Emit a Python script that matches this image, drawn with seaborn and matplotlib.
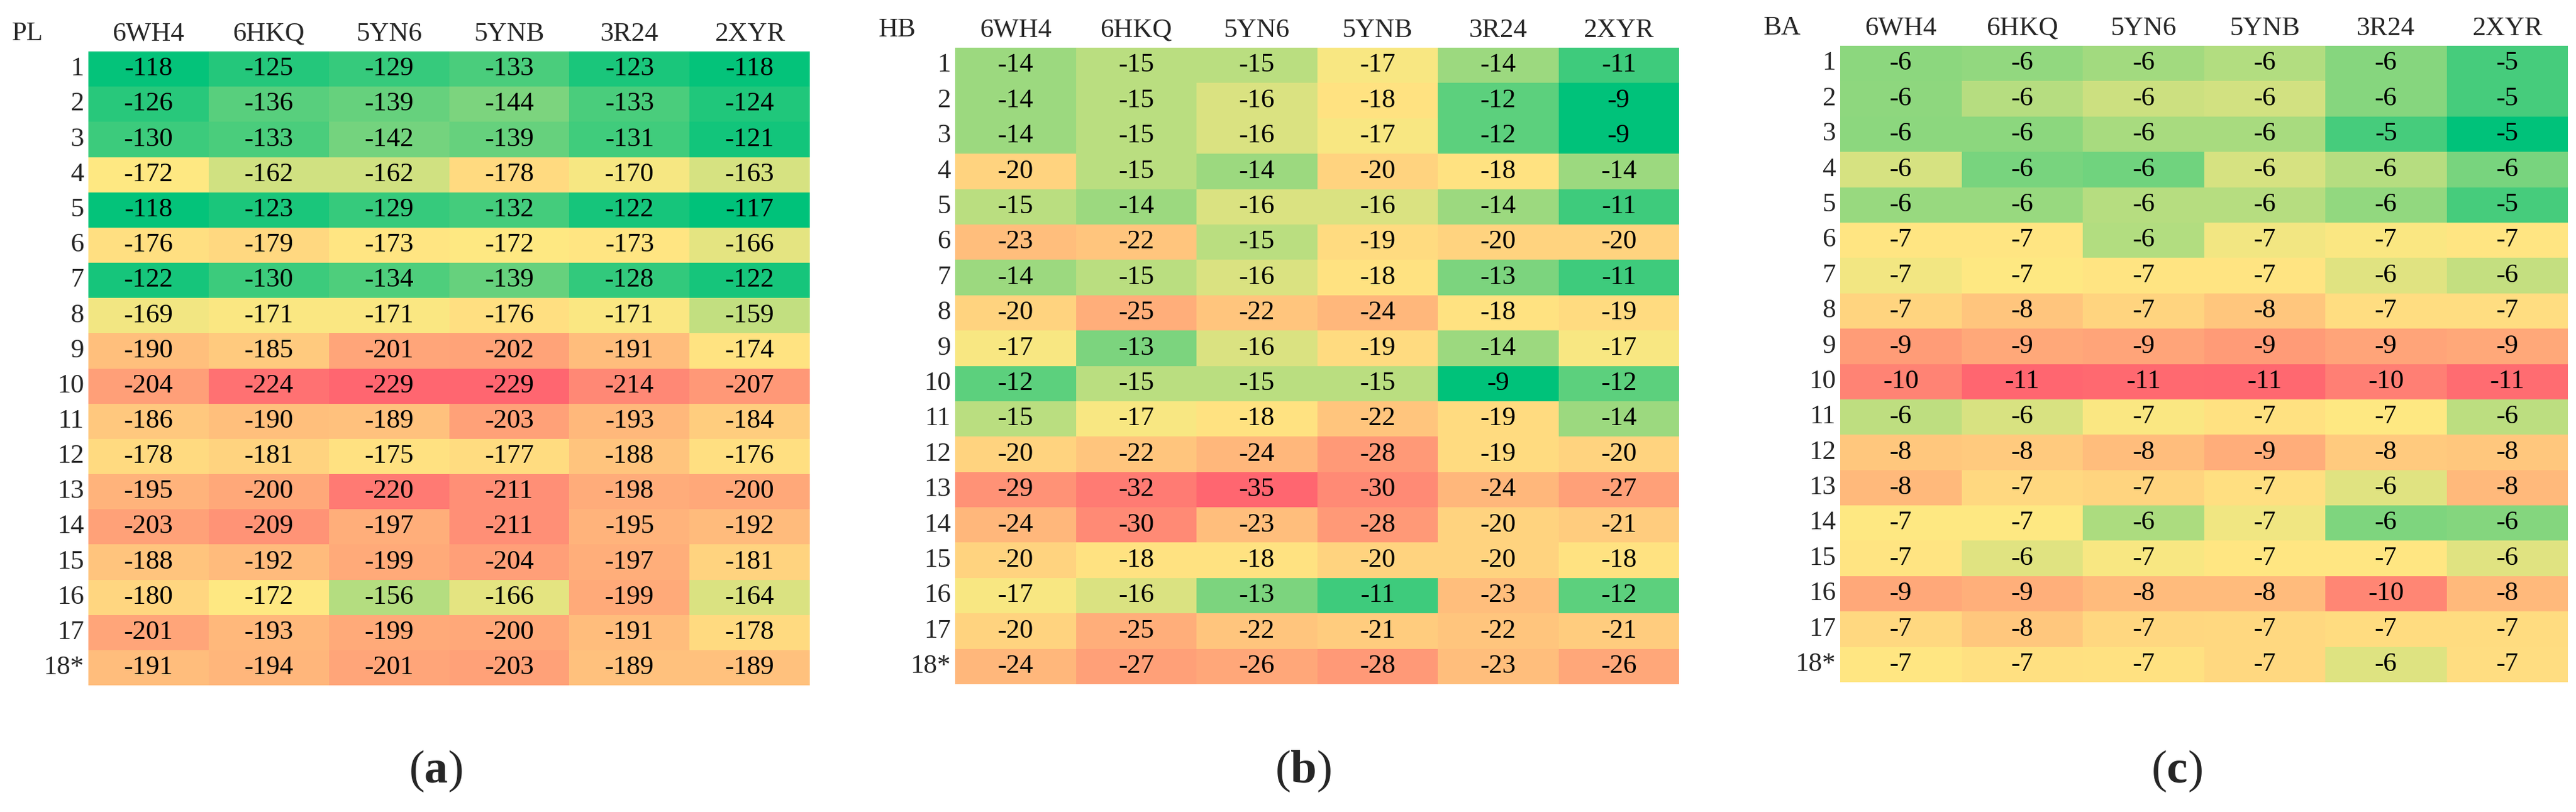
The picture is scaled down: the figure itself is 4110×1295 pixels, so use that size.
import numpy as np
import pandas as pd
import matplotlib
matplotlib.use("Agg")
import matplotlib.pyplot as plt
import seaborn as sns
from matplotlib.colors import LinearSegmentedColormap, TwoSlopeNorm

structures = ["6WH4", "6HKQ", "5YN6", "5YNB", "3R24", "2XYR"]
ligands = [str(i) for i in range(1, 18)] + ["18*"]

pl_scores = [
    [-118, -125, -129, -133, -123, -118],
    [-126, -136, -139, -144, -133, -124],
    [-130, -133, -142, -139, -131, -121],
    [-172, -162, -162, -178, -170, -163],
    [-118, -123, -129, -132, -122, -117],
    [-176, -179, -173, -172, -173, -166],
    [-122, -130, -134, -139, -128, -122],
    [-169, -171, -171, -176, -171, -159],
    [-190, -185, -201, -202, -191, -174],
    [-204, -224, -229, -229, -214, -207],
    [-186, -190, -189, -203, -193, -184],
    [-178, -181, -175, -177, -188, -176],
    [-195, -200, -220, -211, -198, -200],
    [-203, -209, -197, -211, -195, -192],
    [-188, -192, -199, -204, -197, -181],
    [-180, -172, -156, -166, -199, -164],
    [-201, -193, -199, -200, -191, -178],
    [-191, -194, -201, -203, -189, -189],
]

hb_scores = [
    [-14, -15, -15, -17, -14, -11],
    [-14, -15, -16, -18, -12, -9],
    [-14, -15, -16, -17, -12, -9],
    [-20, -15, -14, -20, -18, -14],
    [-15, -14, -16, -16, -14, -11],
    [-23, -22, -15, -19, -20, -20],
    [-14, -15, -16, -18, -13, -11],
    [-20, -25, -22, -24, -18, -19],
    [-17, -13, -16, -19, -14, -17],
    [-12, -15, -15, -15, -9, -12],
    [-15, -17, -18, -22, -19, -14],
    [-20, -22, -24, -28, -19, -20],
    [-29, -32, -35, -30, -24, -27],
    [-24, -30, -23, -28, -20, -21],
    [-20, -18, -18, -20, -20, -18],
    [-17, -16, -13, -11, -23, -12],
    [-20, -25, -22, -21, -22, -21],
    [-24, -27, -26, -28, -23, -26],
]

# printed as integers, the unrounded values are estimated from the cell colours
ba_scores = [
    [-5.89, -5.94, -6.05, -6.16, -5.85, -5.40],
    [-5.91, -6.18, -6.34, -6.39, -5.85, -5.40],
    [-5.89, -5.89, -6.09, -6.09, -5.40, -4.90],
    [-6.41, -5.75, -5.69, -6.41, -6.18, -5.75],
    [-5.98, -5.98, -6.18, -6.18, -5.93, -5.40],
    [-6.79, -6.79, -6.16, -6.61, -6.66, -6.79],
    [-6.61, -6.70, -6.84, -6.84, -6.48, -6.29],
    [-7.41, -7.97, -7.41, -7.92, -7.08, -7.08],
    [-9.43, -9.00, -9.14, -9.47, -9.14, -9.00],
    [-10.37, -11.40, -11.26, -11.31, -10.46, -11.17],
    [-6.25, -6.43, -6.66, -6.94, -6.70, -6.23],
    [-7.88, -7.78, -8.25, -8.82, -7.78, -7.88],
    [-8.39, -7.26, -7.41, -7.03, -6.48, -8.39],
    [-6.70, -6.70, -6.11, -6.59, -5.80, -5.84],
    [-6.84, -6.48, -6.65, -6.75, -6.75, -6.48],
    [-9.00, -8.72, -8.35, -8.35, -10.23, -8.39],
    [-7.26, -7.88, -7.31, -7.26, -7.12, -7.12],
    [-6.75, -6.98, -6.94, -7.26, -6.47, -7.08],
]

panel_names = ["PL", "HB", "BA"]
panel_tags = ["a", "b", "c"]
panel_data = [pl_scores, hb_scores, ba_scores]
# colour scale midpoint (yellow) of each panel
mid_points = [-172, -17.2, -6.7]

W, H = 4110, 1295
# heatmap boxes in pixels: left, top, right, bottom
boxes = [(141, 82, 1292, 1093), (1524, 76, 2679, 1091), (2936, 73, 4097, 1088)]
caption_x = [695, 2079, 3473]
caption_y = 1230

sns.set_style("white")
plt.rcParams["font.family"] = ["Liberation Serif", "DejaVu Serif"]
plt.rcParams["mathtext.fontset"] = "custom"
plt.rcParams["mathtext.rm"] = "Liberation Serif"
plt.rcParams["mathtext.bf"] = "Liberation Serif:bold"

cmap = LinearSegmentedColormap.from_list("ryg", ["#FF6670", "#FFE882", "#00C27A"])

fig = plt.figure(figsize=(W / 100, H / 100), dpi=100)
fs = 31

for name, tag, scores, mid, box, cx in zip(panel_names, panel_tags, panel_data,
                                             mid_points, boxes, caption_x):
    l, t, r, b = box
    ax = fig.add_axes([l / W, 1 - b / H, (r - l) / W, (b - t) / H])
    df = pd.DataFrame(scores, index=ligands, columns=structures)
    norm = TwoSlopeNorm(vcenter=mid, vmin=df.values.min(), vmax=df.values.max())
    sns.heatmap(df, ax=ax, cmap=cmap, norm=norm, annot=True, fmt=".0f", cbar=False,
                linewidths=0, annot_kws={"fontsize": fs, "color": "black"})
    ax.xaxis.tick_top()
    ax.set_xticklabels(structures, fontsize=fs, rotation=0)
    ax.set_yticklabels(ligands, fontsize=fs, rotation=0)
    ax.tick_params(axis="x", length=0, pad=6)
    ax.tick_params(axis="y", length=0, pad=5)
    ax.set_xlabel("")
    ax.set_ylabel("")
    ax.annotate(name, xy=(0, 1), xycoords="axes fraction", xytext=(-122, 28),
                textcoords="offset pixels", ha="left", va="center", fontsize=fs)
    fig.text(cx / W, 1 - caption_y / H, r"($\mathbf{" + tag + r"}$)",
             ha="center", va="center", fontsize=54)

fig.savefig("out.png", dpi=100, facecolor="white")
